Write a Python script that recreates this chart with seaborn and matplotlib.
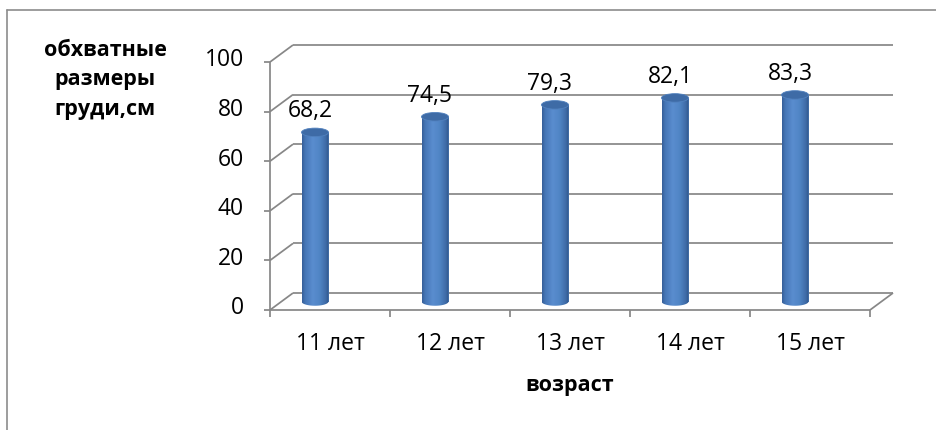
import numpy as np
import pandas as pd
import matplotlib
matplotlib.use("Agg")
import matplotlib.pyplot as plt
import seaborn as sns
from matplotlib.path import Path
from matplotlib.patches import PathPatch, Ellipse
from matplotlib.colors import LinearSegmentedColormap
from matplotlib.lines import Line2D

# ---- data -------------------------------------------------------------
ages = ["11 лет", "12 лет", "13 лет", "14 лет", "15 лет"]
chest = [68.2, 74.5, 79.3, 82.1, 83.3]
value_labels = ["68,2", "74,5", "79,3", "82,1", "83,3"]
y_ticks = [0, 20, 40, 60, 80, 100]
y_title = "обхватные\nразмеры\nгруди,см"
x_title = "возраст"

# ---- style ------------------------------------------------------------
sns.set_style("white")
plt.rcParams["font.family"] = ["Open Sans", "DejaVu Sans"]

W, H, DPI = 936, 430, 100
fig = plt.figure(figsize=(W / DPI, H / DPI), dpi=DPI)
fig.patch.set_facecolor("white")

# axes = the mid-depth plane on which the cylinders stand
PX_X, PX_Y = 120.0, 2.48          # pixels per data unit
x0, x1 = -33.5 / PX_X, -33.5 / PX_X + 5
ax = fig.add_axes([281.5 / W, 128.5 / H, 600 / W, 248 / H])

df = pd.DataFrame({"age": ages, "chest": chest})
sns.barplot(data=df, x="age", y="chest", ax=ax, width=27 / PX_X,
            color="#4F81BD", linewidth=0, saturation=1, zorder=3)
ax.set_xlim(x0, x1)
ax.set_ylim(0, 100)
ax.axis("off")

# depth offsets of the front / back planes
DX, DY = 11.5 / PX_X, 8.5 / PX_Y
grid_kw = dict(color="#878787", lw=1.25, clip_on=False, zorder=1,
               solid_capstyle="butt")
FS = 16.5

# back wall + left side wall
for t in y_ticks:
    ax.plot([x0 + DX, x1 + DX], [t + DY, t + DY], **grid_kw)
    ax.plot([x0 - DX, x0 + DX], [t - DY, t + DY], **grid_kw)
# floor front edge and right edge
ax.plot([x0 - DX, x1 - DX], [-DY, -DY], **grid_kw)
ax.plot([x1 - DX, x1 + DX], [-DY, DY], **grid_kw)
# front value axis with ticks
ax.plot([x0 - DX, x0 - DX], [-DY, 100 - DY], **grid_kw)
for t in y_ticks:
    ax.plot([x0 - DX - 6 / PX_X, x0 - DX], [t - DY, t - DY], **grid_kw)
    ax.text(x0 - DX - 26 / PX_X, t - DY + 1.5 / PX_Y, str(t), ha="right",
            va="center", fontsize=FS, color="black")
# category axis ticks and labels
for k in range(len(ages) + 1):
    xt = x0 - DX + k
    ax.plot([xt, xt], [-DY, -DY - 7 / PX_Y], **grid_kw)
for k, lab in enumerate(ages):
    ax.text(x0 - DX + k + 0.5, -42 / PX_Y, lab, ha="center", va="center",
            fontsize=FS, color="black")
ax.text(x0 - DX + 2.5, -84 / PX_Y, x_title, ha="center", va="center",
        fontsize=15.5, fontweight="bold", color="black")

# cylinders: shade each seaborn bar as a cylinder
cmap = LinearSegmentedColormap.from_list("cyl", [
    (0.00, "#355E98"), (0.12, "#4576B6"), (0.40, "#5A8DCF"),
    (0.65, "#5085C5"), (0.88, "#3F6CA8"), (1.00, "#2E5488")])
grad = np.linspace(0, 1, 256).reshape(1, -1)
EH = 8.5 / PX_Y
for bar, val, lab in zip(ax.patches, chest, value_labels):
    bx, bw, bh = bar.get_x(), bar.get_width(), bar.get_height()
    xc = bx + bw / 2
    tt = np.linspace(np.pi, 2 * np.pi, 40)
    verts = [(bx, bh), (bx, 0)]
    verts += list(zip(xc + bw / 2 * np.cos(tt), EH / 2 * np.sin(tt)))
    verts += [(bx + bw, bh), (bx, bh)]
    codes = [Path.MOVETO] + [Path.LINETO] * (len(verts) - 2) + [Path.CLOSEPOLY]
    clip = PathPatch(Path(verts, codes), transform=ax.transData,
                     facecolor="none", edgecolor="none")
    im = ax.imshow(grad, cmap=cmap, aspect="auto", zorder=3,
                   extent=[bx, bx + bw, -EH, bh], interpolation="bilinear")
    im.set_clip_path(clip)
    im.set_clip_box(fig.bbox)
    ax.add_patch(Ellipse((xc, bh), bw, EH, facecolor="#3E6BA6",
                         edgecolor="#5181BE", lw=0.6, zorder=4))
    ax.text(xc - 5 / PX_X, val + 21 / PX_Y, lab, ha="center", va="center",
            fontsize=FS, color="black", zorder=5)

ax.set_xlim(x0, x1)
ax.set_ylim(0, 100)

# value-axis title
fig.text(105 / W, 1 - 80 / H, y_title, ha="center", va="center",
         multialignment="center", fontsize=15.5, fontweight="bold",
         linespacing=1.55, color="black")

# chart-area border (left and top edges visible)
fig.add_artist(Line2D([7.5 / W, 7.5 / W], [0, 1 - 9.5 / H],
                      transform=fig.transFigure, color="#8C8C8C", lw=1.2))
fig.add_artist(Line2D([7.5 / W, 1], [1 - 9.5 / H, 1 - 9.5 / H],
                      transform=fig.transFigure, color="#8C8C8C", lw=1.2))

fig.savefig("out.png", dpi=DPI, facecolor="white")
